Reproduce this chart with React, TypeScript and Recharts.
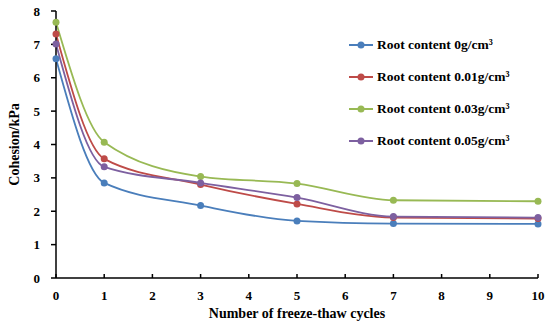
import React from "react";
import { LineChart, Line, XAxis, YAxis } from "recharts";

const cycles = [0, 1, 3, 5, 7, 10];
const root0 = [6.57, 2.85, 2.17, 1.71, 1.63, 1.62];
const root001 = [7.31, 3.57, 2.8, 2.22, 1.81, 1.78];
const root003 = [7.66, 4.07, 3.04, 2.83, 2.33, 2.3];
const root005 = [7.01, 3.33, 2.85, 2.41, 1.84, 1.81];
const xTicks = [0, 1, 2, 3, 4, 5, 6, 7, 8, 9, 10];
const yTicks = [0, 1, 2, 3, 4, 5, 6, 7, 8];

const series = [
  { key: "r0", name: "Root content 0g/cm³", color: "#4a7ebb", values: root0 },
  { key: "r001", name: "Root content 0.01g/cm³", color: "#be4b48", values: root001 },
  { key: "r003", name: "Root content 0.03g/cm³", color: "#98b954", values: root003 },
  { key: "r005", name: "Root content 0.05g/cm³", color: "#7d60a0", values: root005 },
];

const data = cycles.map((c, i) => {
  const row: Record<string, number> = { cycle: c };
  series.forEach((s) => {
    row[s.key] = s.values[i];
  });
  return row;
});

const FONT = "Liberation Serif, Times New Roman, serif";

const renderYLabel = (props: any) => {
  const vb = props.viewBox;
  const cy = vb.y + vb.height / 2;
  return (
    <text
      x={14}
      y={cy}
      transform={`rotate(-90, 14, ${cy})`}
      textAnchor="middle"
      dominantBaseline="central"
      fontFamily={FONT}
      fontWeight={700}
      fontSize={14}
      fill="#000"
    >
      Cohesion/kPa
    </text>
  );
};

export default function App() {
  return (
    <div style={{ position: "absolute", left: 0, top: 0, width: 550, height: 332, background: "#fff" }}>
      <LineChart
        width={550}
        height={332}
        data={data}
        margin={{ top: 11, right: 12, left: 0, bottom: 0 }}
      >
        <XAxis
          dataKey="cycle"
          type="number"
          domain={[0, 10]}
          ticks={xTicks}
          interval={0}
          height={54}
          axisLine={{ stroke: "#000", strokeWidth: 1.5 }}
          tickLine={{ stroke: "#000", strokeWidth: 1.5 }}
          tickSize={-4}
          tickMargin={17}
          tick={{ fontFamily: FONT, fontWeight: 700, fontSize: 13, fill: "#000" }}
          label={{
            value: "Number of freeze-thaw cycles",
            position: "insideBottom",
            offset: 14,
            style: { fontFamily: FONT, fontWeight: 700, fontSize: 14, fill: "#000" },
          }}
        />
        <YAxis
          type="number"
          domain={[0, 8]}
          ticks={yTicks}
          interval={0}
          width={56}
          axisLine={{ stroke: "#000", strokeWidth: 1.5 }}
          tickLine={{ stroke: "#000", strokeWidth: 1.5 }}
          tickSize={5}
          tickMargin={11}
          tick={{ fontFamily: FONT, fontWeight: 700, fontSize: 13, fill: "#000" }}
          label={renderYLabel}
        />
        {series.map((s) => (
          <Line
            key={s.key}
            type="monotone"
            dataKey={s.key}
            name={s.name}
            stroke={s.color}
            strokeWidth={1.8}
            dot={{ r: 3.5, fill: s.color, stroke: s.color, strokeWidth: 0 }}
            isAnimationActive={false}
          />
        ))}
      </LineChart>
      <div
        style={{
          position: "absolute",
          left: 349,
          top: 29,
          fontFamily: FONT,
          fontWeight: 700,
          fontSize: 13.5,
          color: "#000",
        }}
      >
        {series.map((s) => (
          <div key={s.key} style={{ display: "flex", alignItems: "center", height: 32 }}>
            <svg width={26} height={10} style={{ marginRight: 2 }}>
              <line x1={0} y1={5} x2={24} y2={5} stroke={s.color} strokeWidth={2} />
              <circle cx={12} cy={5} r={3.5} fill={s.color} />
            </svg>
            <span>{s.name}</span>
          </div>
        ))}
      </div>
    </div>
  );
}
